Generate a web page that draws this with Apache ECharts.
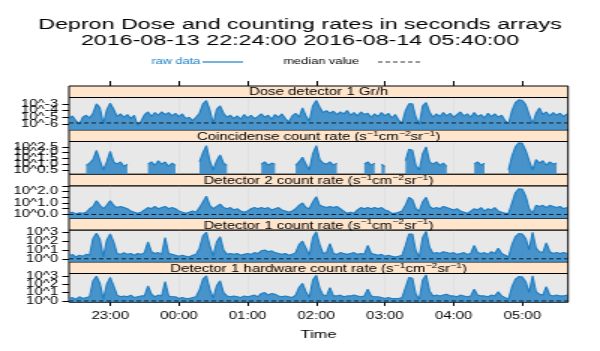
<!DOCTYPE html>
<html>
<head>
<meta charset="utf-8">
<script src="https://cdn.jsdelivr.net/npm/echarts@6/dist/echarts.min.js"></script>
<style>
  html, body { margin: 0; padding: 0; background: #fff; overflow: hidden; }
  /* reference picture is stretched horizontally, so draw narrow and stretch */
  #main { width: 400px; height: 351px; transform: scaleX(1.5); transform-origin: 0 0; }
</style>
</head>
<body>
<div id="main"></div>
<script>
// sample times, minutes after 22:00 (22:24 .. 05:39, every 3 min)
const times = [];
for (let t = 24; t <= 460; t += 3) times.push(t);

// log10 of the values (null = no counts)
const doseLog = [
  -5.3, -4.8, -5.5, -6.1, -5.0, -4.7, -5.1, -4.4, -3.0, -3.6,
  -6.0, -3.9, -2.9, -3.8, -4.9, -4.5, -5.0, -4.6, -5.2, -4.7,
  -6.2, -5.6, -4.6, -4.2, -4.9, -4.3, -4.7, -4.2, -4.6, -4.3,
  -4.8, -4.4, -4.9, -4.5, -5.2, -5.0, -5.5, -5.0, -4.4, -3.0,
  -2.5, -3.9, -6.0, -3.8, -3.3, -4.4, -5.0, -4.7, -5.2, -4.8,
  -5.3, -4.6, -5.1, -4.7, -5.2, -4.9, -4.5, -5.0, -4.7, -5.3,
  -4.6, -5.0, -4.5, -5.2, -5.7, -4.8, -4.4, -5.0, -3.6, -4.8,
  -5.6, -3.3, -2.5, -3.5, -4.3, -4.0, -4.4, -4.1, -4.6, -4.2,
  -4.5, -4.0, -4.7, -4.3, -4.8, -4.2, -4.6, -4.4, -5.0, -4.5,
  -4.9, -4.3, -4.8, -4.4, -5.1, -4.6, -5.4, -5.9, -4.0, -3.0,
  -3.0, -5.0, -6.1, -3.3, -2.8, -4.2, -5.0, -4.5, -4.9, -4.3,
  -4.8, -4.4, -5.0, -4.6, -4.2, -4.8, -4.5, -5.0, -4.3, -4.9,
  -4.6, -5.1, -4.4, -4.9, -4.5, -5.0, -4.7, -5.5, -6.0, -4.0,
  -2.8, -2.4, -2.5, -3.1, -4.6, -6.0, -4.4, -3.6, -4.6, -4.2,
  -4.8, -4.3, -4.7, -4.4, -4.9, -4.5
];
const coincLog = [
  null, null, null, null, null, 0.9, 1.1, 1.4, 2.2, 1.3,
  0.5, 1.2, 2.1, 1.2, 1.0, 1.2, 0.8, 1.0, null, null,
  null, null, null, 1.0, 1.2, 0.9, 1.3, 1.0, 1.2, 0.8,
  1.1, 0.9, null, null, null, null, 1.0, null, 1.2, 2.0,
  2.6, 1.3, 0.5, 1.3, 1.8, 1.1, 0.9, null, null, null,
  null, null, null, null, null, null, 1.0, 1.2, 0.9, 1.1,
  1.0, null, null, null, null, null, 0.9, 1.2, 1.6, 1.0,
  0.5, 1.9, 2.6, 1.4, 1.1, 1.0, 1.2, 0.9, 1.1, null,
  0.9, null, null, null, null, null, 1.0, 1.2, 0.9, 1.1,
  null, 1.0, 0.8, null, null, null, null, null, 1.3, 2.3,
  2.2, 0.9, 0.5, 1.9, 2.5, 1.2, 1.0, 1.2, 0.9, 1.1,
  0.8, null, null, null, null, null, null, null, 1.0, 1.2,
  0.9, 1.1, null, 1.0, null, 1.1, null, null, 0.5, 1.7,
  2.5, 2.85, 2.8, 2.2, 1.3, 0.5, 1.4, 1.1, 1.3, 0.9,
  1.2, 1.0, 1.1, null, null, null
];
const det2Log = [
  0.1, 0.2, 0.05, 0.15, 0.1, 0.2, 0.5, 0.7, 1.2, 0.8,
  0.5, 0.8, 1.2, 0.8, 0.6, 0.7, 0.6, 0.5, 0.3, 0.2,
  0.1, 0.2, 0.4, 0.6, 0.5, 0.7, 0.5, 0.6, 0.7, 0.5,
  0.6, 0.5, 0.3, 0.2, 0.1, 0.2, 0.3, 0.2, 0.6, 1.1,
  1.6, 0.8, 0.5, 0.7, 0.9, 0.6, 0.5, 0.6, 0.4, 0.5,
  0.3, 0.2, 0.3, 0.5, 0.6, 0.5, 0.6, 0.5, 0.6, 0.4,
  0.5, 0.6, 0.4, 0.3, 0.2, 0.3, 0.5, 0.8, 1.0, 0.6,
  0.5, 1.1, 1.55, 0.8, 0.7, 0.6, 0.7, 0.6, 0.7, 0.5,
  0.3, 0.1, 0.2, 0.1, 0.4, 0.6, 0.5, 0.6, 0.5, 0.6,
  0.5, 0.6, 0.4, 0.3, 0.1, 0.1, 0.2, 0.3, 0.8, 1.5,
  1.3, 0.5, 0.3, 1.1, 1.5, 0.7, 0.5, 0.6, 0.5, 0.7,
  0.6, 0.5, 0.4, 0.5, 0.3, 0.2, 0.1, 0.3, 0.5, 0.4,
  0.6, 0.3, 0.5, 0.4, 0.6, 0.3, 0.2, 0.1, 0.1, 1.0,
  1.9, 2.25, 2.2, 1.6, 0.5, 0.1, 0.8, 0.7, 0.8, 0.6,
  0.8, 0.7, 0.6, 0.7, 0.5, 0.6
];
const det1Log = [
  0.3, 0.5, 0.2, 0.4, 0.3, 0.5, 0.4, 2.3, 2.9, 2.2,
  0.2, 2.1, 2.8, 1.9, 0.6, 0.5, 0.7, 0.5, 0.6, 0.4,
  0.6, 0.5, 0.7, 1.9, 0.8, 0.6, 0.7, 0.5, 2.4, 0.6,
  0.5, 0.4, 0.3, 0.4, 0.3, 0.2, 0.4, 0.5, 1.2, 2.6,
  3.0, 1.5, 0.3, 1.9, 2.5, 1.0, 0.5, 0.6, 0.5, 0.6,
  0.4, 0.5, 0.6, 0.5, 0.7, 0.6, 0.9, 1.0, 0.8, 0.9,
  0.7, 0.6, 0.5, 0.6, 0.4, 0.5, 0.7, 1.6, 2.0, 1.2,
  0.4, 2.4, 3.05, 1.6, 0.6, 0.7, 1.7, 0.6, 0.5, 0.7,
  0.6, 0.5, 0.6, 0.7, 0.5, 0.6, 0.5, 1.5, 0.6, 0.5,
  0.4, 0.5, 0.3, 0.4, 0.3, 0.2, 0.3, 0.4, 1.5, 2.8,
  2.8, 0.9, 0.2, 2.4, 3.1, 1.3, 0.6, 0.7, 0.6, 0.8,
  0.7, 0.6, 0.7, 0.5, 0.6, 0.7, 0.5, 0.6, 1.5, 0.7,
  0.6, 0.7, 0.5, 0.8, 0.6, 1.2, 0.6, 0.4, 0.2, 1.6,
  2.5, 2.85, 2.8, 2.3, 1.0, 3.0, 1.2, 0.8, 0.7, 1.8,
  0.8, 0.6, 0.7, 0.6, 0.7, 0.6
];
const det1hwLog = [
  0.3, 0.4, 0.2, 0.5, 0.3, 0.4, 0.5, 2.4, 2.95, 2.1,
  0.2, 2.0, 2.8, 1.8, 0.7, 0.5, 0.6, 0.5, 0.7, 0.4,
  0.5, 0.6, 0.6, 1.8, 0.8, 0.5, 0.7, 0.6, 2.3, 0.6,
  0.5, 0.5, 0.3, 0.4, 0.3, 0.3, 0.4, 0.5, 1.3, 2.6,
  3.0, 1.4, 0.3, 1.8, 2.4, 1.0, 0.6, 0.5, 0.6, 0.5,
  0.4, 0.6, 0.5, 0.6, 0.7, 0.5, 0.9, 1.0, 0.7, 0.9,
  0.8, 0.6, 0.5, 0.6, 0.5, 0.4, 0.7, 1.6, 2.1, 1.1,
  0.4, 2.5, 3.05, 1.5, 0.7, 0.6, 1.6, 0.6, 0.6, 0.7,
  0.5, 0.6, 0.6, 0.7, 0.6, 0.5, 0.6, 1.4, 0.6, 0.5,
  0.5, 0.4, 0.3, 0.4, 0.3, 0.3, 0.3, 0.4, 1.6, 2.8,
  2.7, 0.8, 0.2, 2.5, 3.1, 1.2, 0.6, 0.7, 0.6, 0.7,
  0.8, 0.6, 0.6, 0.5, 0.7, 0.6, 0.5, 0.6, 1.4, 0.7,
  0.6, 0.6, 0.5, 0.7, 0.6, 1.1, 0.6, 0.4, 0.2, 1.7,
  2.6, 2.9, 2.85, 2.3, 1.0, 3.0, 1.1, 0.8, 0.7, 1.7,
  0.7, 0.6, 0.7, 0.6, 0.6, 0.7
];
const medians = [-5.85, null, 0.0, 0.0, 0.0];

const stripTitles = [
  'Dose detector 1 Gr/h',
  'Coincidense count rate ',
  'Detector 2 count rate ',
  'Detector 1 count rate ',
  'Detector 1 hardware count rate '
];
const yTicks = [
  [-6, -5, -4, -3],
  [0.5, 1.0, 1.5, 2.0, 2.5],
  [0.0, 0.5, 1.0, 1.5, 2.0, 2.5],
  [0, 1, 2, 3],
  [0, 1, 2, 3]
];
const yLabels = [
  [-6, -5, -4, -3],
  [0.5, 1.0, 1.5, 2.0, 2.5],
  [0.0, 1.0, 2.0],
  [0, 1, 2, 3],
  [0, 1, 2, 3]
];
const yDigits = [0, 1, 1, 0, 0];
const yRanges = [[-6.9, -2.05], [0.13, 2.96], [-0.35, 2.5], [-0.36, 3.25], [-0.16, 3.27]];
const hourTicks = [60, 120, 180, 240, 300, 360, 420];
const hourLabels = ['23:00', '00:00', '01:00', '02:00', '03:00', '04:00', '05:00'];
const series5 = [doseLog, coincLog, det2Log, det1Log, det1hwLog];

// layout (in the unstretched 400px wide frame)
const L = 46, R = 21.3, S = 11.5;
const stripTops = [86, 130, 174.3, 218.5, 262];
const plotBottoms = [130, 174.3, 218.5, 262, 302.3];
const W = 400 - L - R;
const blue = '#1b7ec6';
const font = 'Liberation Sans, Arial, sans-serif';

const chart = echarts.init(document.getElementById('main'));

const grids = [], xAxes = [], yAxes = [], series = [], graphics = [];
series5.forEach(function (vals, i) {
  const top = stripTops[i];
  grids.push({
    left: L, right: R, top: top + S, height: plotBottoms[i] - top - S,
    show: true, backgroundColor: '#e8e8e8', borderColor: '#000', borderWidth: 1
  });
  const last = i === series5.length - 1;
  xAxes.push({
    type: 'value', gridIndex: i, min: 24, max: 460, interval: 2,
    axisLine: { show: false },
    splitLine: { show: true, lineStyle: { color: '#dadada', width: 0.5 } },
    axisTick: { show: last, customValues: hourTicks, length: 5, lineStyle: { color: '#000' } },
    axisLabel: {
      show: last, customValues: hourTicks, margin: 9, color: '#000', fontSize: 10, fontFamily: font,
      formatter: function (v) { return hourLabels[hourTicks.indexOf(v)]; }
    },
    name: last ? 'Time' : '', nameLocation: 'middle', nameGap: 27,
    nameTextStyle: { color: '#000', fontSize: 11, fontFamily: font }
  });
  yAxes.push({
    type: 'value', gridIndex: i, min: yRanges[i][0], max: yRanges[i][1],
    axisLine: { show: false }, splitLine: { show: false },
    axisTick: { show: true, customValues: yTicks[i], length: 4.5, lineStyle: { color: '#000' } },
    // labels are crowded, ECharts drops some; they are drawn below instead
    axisLabel: { show: false }
  });
  series.push({
    name: 'raw data', type: 'line', xAxisIndex: i, yAxisIndex: i,
    data: times.map(function (t, k) { return [t, vals[k]]; }),
    showSymbol: false, symbol: 'none', connectNulls: false,
    lineStyle: { color: blue, width: 1.1 },
    areaStyle: { color: '#3a8bc6', opacity: 0.92, origin: 'start' },
    z: 2
  });
  if (medians[i] !== null) {
    series.push({
      name: 'median value', type: 'line', xAxisIndex: i, yAxisIndex: i,
      data: [[24, medians[i]], [460, medians[i]]],
      showSymbol: false, symbol: 'none',
      lineStyle: { color: '#000', width: 0.8, type: [3, 2] },
      z: 3
    });
  }
  // strip above each panel
  graphics.push({
    type: 'rect', shape: { x: L, y: top, width: W, height: S },
    style: { fill: '#ffe5cc', stroke: '#000', lineWidth: 1 }
  });
  const rich = i === 0 ? stripTitles[i] :
    '{n|' + stripTitles[i] + '(s}{s|−1}{n|cm}{s|−2}{n|sr}{s|−1}{n|)}';
  graphics.push({
    type: 'text', x: L + W / 2, y: top + S / 2 + 0.5,
    style: {
      text: rich, fill: '#000', font: '10px ' + font, align: 'center', verticalAlign: 'middle',
      rich: {
        n: { fontSize: 10, fontFamily: font, lineHeight: 12, verticalAlign: 'bottom' },
        s: { fontSize: 7, fontFamily: font, lineHeight: 12, verticalAlign: 'top' }
      }
    }
  });
});

// legend: text first, then the line sample
graphics.push(
  { type: 'text', x: 101, y: 62, style: { text: 'raw data', fill: blue, font: '8.5px ' + font, verticalAlign: 'middle' } },
  { type: 'line', shape: { x1: 135, y1: 62, x2: 162, y2: 62 }, style: { stroke: blue, lineWidth: 1.2 } },
  { type: 'text', x: 189, y: 62, style: { text: 'median value', fill: '#000', font: '8.5px ' + font, verticalAlign: 'middle' } },
  { type: 'line', shape: { x1: 252, y1: 62, x2: 280, y2: 62 }, style: { stroke: '#000', lineWidth: 0.8, lineDash: [3, 2] } }
);

// ticks on top of the first strip
xAxes.push({
  type: 'value', gridIndex: 0, position: 'top', offset: S, min: 24, max: 460,
  axisLine: { show: false }, splitLine: { show: false },
  axisTick: { show: true, customValues: hourTicks, length: 5, lineStyle: { color: '#000' } },
  axisLabel: { show: false }
});

chart.setOption({
  backgroundColor: '#fff',
  animation: false,
  title: [
    { text: 'Depron Dose and counting rates in seconds arrays', left: 'center', top: 12,
      textStyle: { color: '#000', fontSize: 15.5, fontWeight: 'normal', fontFamily: font } },
    { text: '2016-08-13 22:24:00 2016-08-14 05:40:00', left: 'center', top: 28,
      textStyle: { color: '#000', fontSize: 15.5, fontWeight: 'normal', fontFamily: font } }
  ],
  grid: grids,
  xAxis: xAxes,
  yAxis: yAxes,
  series: series
});

// y tick labels, placed through the axis scale so none is dropped
yLabels.forEach(function (labs, i) {
  labs.forEach(function (v) {
    const py = chart.convertToPixel({ yAxisIndex: i }, v);
    graphics.push({
      type: 'text', x: L - 7.3, y: py,
      style: { text: '10^' + v.toFixed(yDigits[i]), fill: '#000', font: '10px ' + font, align: 'right', verticalAlign: 'middle' }
    });
  });
});
chart.setOption({ graphic: graphics });
</script>
</body>
</html>
